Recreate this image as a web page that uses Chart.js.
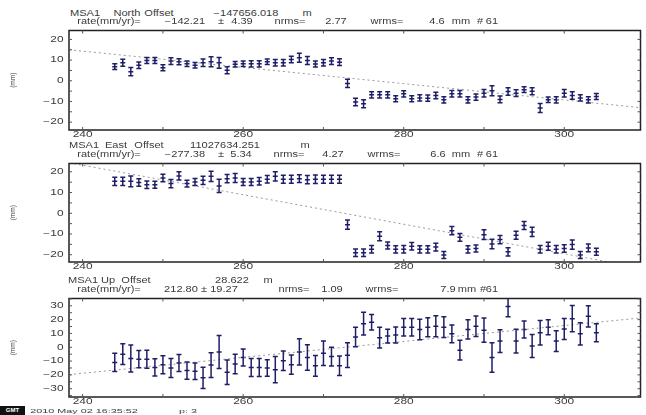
<!DOCTYPE html>
<html>
<head>
<meta charset="utf-8">
<script src="https://cdn.jsdelivr.net/npm/chart.js@4.4.0/dist/chart.umd.min.js"></script>
<style>
  body { margin: 0; background: #fff; width: 646px; height: 415px; overflow: hidden; position: relative;
         font-family: "Liberation Sans", Arial, sans-serif; }
  canvas { position: absolute; left: 0; }
  .t { position: absolute; font-size: 8.5px; line-height: 1; color: #3a3a3a; white-space: pre;
       transform: translate(-50%, -50%) scaleX(1.3); }
  .logo { position: absolute; left: 0; top: 406px; width: 25px; height: 9px; background: #111;
          color: #fff; font-size: 6px; line-height: 9px; text-align: center; font-weight: bold; }
</style>
</head>
<body>
<canvas id="northChart" width="646" height="119" style="top:25px"></canvas>
<canvas id="eastChart" width="646" height="118" style="top:158px"></canvas>
<canvas id="upChart" width="646" height="118" style="top:293px"></canvas>
<div class="logo">GMT</div>

<script>
// day of year, one solution per day
const days = [244, 245, 246, 247, 248, 249, 250, 251, 252, 253, 254, 255, 256, 257, 258, 259, 260, 261, 262, 263,
  264, 265, 266, 267, 268, 269, 270, 271, 272, 273, 274, 275, 276, 277, 278, 279, 280, 281, 282, 283,
  284, 285, 286, 287, 288, 289, 290, 291, 292, 293, 294, 295, 296, 297, 298, 299, 300, 301, 302, 303, 304];

const northValues = [6.8, 8.7, 4.4, 7.5, 9.8, 9.8, 6.3, 9.5, 9.2, 8.2, 7.5, 8.7, 9.2, 8.7, 5.1, 8.0, 8.2, 8.2, 8.2, 9.2,
  8.7, 8.7, 10.3, 11.1, 9.8, 8.1, 8.7, 9.5, 9.0, -1.3, -10.3, -11.1, -6.8, -6.8, -6.8, -8.7, -6.3, -8.7, -8.3, -8.4,
  -7.1, -9.2, -6.3, -6.3, -9.2, -7.9, -6.0, -4.8, -9.0, -5.2, -6.0, -4.3, -5.1, -13.2, -9.2, -9.2, -6.0, -7.1, -8.3, -9.2, -7.6];
const northErrors = [1.4, 1.7, 2.0, 1.6, 1.5, 1.5, 1.5, 1.6, 1.5, 1.3, 1.3, 1.8, 2.4, 2.6, 1.7, 1.3, 1.3, 1.5, 1.5, 1.3,
  1.6, 1.6, 1.6, 2.2, 1.9, 1.5, 1.6, 1.6, 1.6, 2.0, 1.8, 1.9, 1.5, 1.5, 1.5, 1.5, 1.5, 1.5, 1.5, 1.5,
  1.6, 1.5, 1.6, 1.6, 1.5, 1.5, 1.8, 2.4, 1.6, 1.8, 1.6, 1.4, 1.7, 2.2, 1.3, 1.5, 1.8, 1.8, 1.5, 1.5, 1.5];

const eastValues = [15.4, 15.4, 15.4, 14.8, 13.8, 13.8, 17.0, 14.3, 18.0, 14.3, 15.1, 15.9, 17.8, 13.2, 16.7, 17.0, 15.1, 15.1, 15.4, 16.4,
  17.8, 16.4, 16.4, 16.7, 16.2, 16.4, 16.4, 16.4, 16.4, -5.5, -19.0, -19.0, -17.4, -11.1, -15.5, -17.4, -17.4, -15.9, -17.4, -17.4,
  -16.3, -20.1, -8.4, -11.6, -17.4, -17.0, -10.3, -14.8, -12.7, -18.6, -10.6, -5.9, -9.0, -17.4, -15.9, -17.4, -17.0, -15.1, -20.1, -16.7, -18.6];
const eastErrors = [2.0, 2.0, 2.6, 1.8, 1.8, 1.7, 1.8, 2.0, 2.0, 1.6, 1.7, 2.0, 2.5, 3.2, 2.0, 2.2, 1.7, 1.7, 1.8, 1.8,
  2.2, 1.9, 1.9, 1.9, 2.0, 2.0, 1.9, 1.9, 1.9, 2.2, 1.8, 1.8, 1.8, 2.2, 1.7, 1.7, 1.8, 1.8, 1.7, 1.7,
  1.9, 1.7, 2.0, 1.9, 1.7, 1.7, 2.3, 2.3, 2.0, 2.0, 1.9, 1.9, 2.2, 1.8, 1.9, 1.8, 1.8, 2.2, 1.7, 1.9, 1.7];

const upValues = [-11.0, -5.0, -8.1, -8.6, -8.6, -14.6, -12.6, -15.0, -11.4, -16.9, -17.4, -22.1, -12.9, -3.4, -18.1, -12.1, -7.4, -14.6, -14.6, -15.0,
  -16.2, -9.8, -12.6, -3.4, -7.4, -13.4, -4.3, -6.7, -13.4, -5.7, 7.4, 17.1, 18.1, 6.9, 8.1, 8.8, 14.5, 14.5, 12.9, 14.5,
  15.2, 14.5, 9.7, -2.1, 12.9, 15.2, 12.4, -7.4, 4.5, 29.5, 4.5, 12.9, 0.9, 10.5, 14.5, 4.5, 13.3, 20.7, 9.7, 22.4, 10.5];
const upErrors = [6.6, 7.5, 9.8, 6.3, 6.5, 6.2, 6.5, 6.9, 6.2, 6.3, 6.0, 7.7, 9.0, 11.9, 8.9, 7.1, 6.2, 6.5, 6.5, 6.0,
  9.5, 7.1, 7.0, 9.5, 9.2, 7.5, 8.9, 6.8, 7.1, 8.9, 7.1, 8.3, 5.6, 7.5, 5.0, 5.8, 6.3, 6.3, 7.4, 6.9,
  7.6, 7.5, 6.5, 7.1, 7.0, 7.4, 8.8, 10.7, 8.2, 7.4, 8.6, 6.2, 8.3, 8.9, 5.4, 7.5, 7.6, 9.5, 8.0, 7.7, 6.5];

// fitted rate lines (ends of the dotted line)
const trendDays = [238.3, 309.5];
const northTrend = [15.0, -13.0];
const eastTrend = [24.4, -26.3];
const upTrend = [-19.8, 21.2];

const xTickLabels = [240, 260, 280, 300];
const northYLabels = [-20, -10, 0, 10, 20];
const eastYLabels = [-20, -10, 0, 10, 20];
const upYLabels = [-30, -20, -10, 0, 10, 20, 30];

// header text pieces: [centre x, text]
const headers = [
  { y: 12.7, parts: [[85, "MSA1"], [127, "North"], [159, "Offset"], [246, "\u2212147656.018"], [307, "m"]] },
  { y: 20.7, parts: [[109, "rate(mm/yr)="], [185, "\u2212142.21"], [221, "\u00b1"], [242, "4.39"], [290, "nrms="],
                     [336, "2.77"], [387, "wrms="], [437, "4.6"], [461, "mm"], [480, "#"], [492, "61"]] },
  { y: 145, parts: [[84, "MSA1"], [116, "East"], [149, "Offset"], [225, "11027634.251"], [305, "m"]] },
  { y: 154, parts: [[109, "rate(mm/yr)="], [185, "\u2212277.38"], [221, "\u00b1"], [241, "5.34"], [289, "nrms="],
                    [333, "4.27"], [384, "wrms="], [438, "6.6"], [461, "mm"], [480, "#"], [492, "61"]] },
  { y: 280, parts: [[83, "MSA1"], [108, "Up"], [136, "Offset"], [232, "28.622"], [268, "m"]] },
  { y: 288.5, parts: [[109, "rate(mm/yr)="], [181, "212.80"], [204, "\u00b1"], [224, "19.27"], [294, "nrms="],
                      [332, "1.09"], [382, "wrms="], [448, "7.9"], [467, "mm"], [483, "#"], [492, "61"]] },
  { y: 410.5, parts: [[84, "2010 May 02 16:35:52"], [188, "p: 3"]] }
];

headers.forEach(function (line) {
  line.parts.forEach(function (p) {
    const d = document.createElement("div");
    d.className = "t";
    d.style.left = p[0] + "px";
    d.style.top = line.y + "px";
    d.textContent = p[1];
    if (line.y > 400) { d.style.fontSize = "6px"; d.style.transform = "translate(-50%, -50%) scaleX(1.8)"; }
    document.body.appendChild(d);
  });
});

const ink = "#1e1e66";
const SX = 1.4;

function stretchedText(ctx, text, x, y, align) {
  ctx.save();
  ctx.translate(x, y);
  ctx.scale(SX, 1);
  ctx.textAlign = align;
  ctx.textBaseline = "middle";
  ctx.fillText(text, 0, 0);
  ctx.restore();
}

// error bars with caps
const errorBarPlugin = {
  id: "errorBars",
  afterDatasetsDraw(chart) {
    const ctx = chart.ctx;
    const a = chart.chartArea;
    const xs = chart.scales.x, ys = chart.scales.y;
    chart.data.datasets.forEach(function (ds) {
      if (!ds.errors) return;
      ctx.save();
      ctx.beginPath();
      ctx.rect(a.left, a.top, a.right - a.left, a.bottom - a.top);
      ctx.clip();
      ctx.strokeStyle = ink;
      ctx.lineWidth = 1.5;
      ds.data.forEach(function (pt, i) {
        const px = xs.getPixelForValue(pt.x);
        const top = ys.getPixelForValue(pt.y + ds.errors[i]);
        const bot = ys.getPixelForValue(pt.y - ds.errors[i]);
        ctx.beginPath();
        ctx.moveTo(px, top); ctx.lineTo(px, bot);
        ctx.moveTo(px - 2.5, top); ctx.lineTo(px + 2.5, top);
        ctx.moveTo(px - 2.5, bot); ctx.lineTo(px + 2.5, bot);
        ctx.stroke();
      });
      ctx.restore();
    });
  }
};

// frame, inward ticks, tick labels and axis title
const framePlugin = {
  id: "frame",
  afterDraw(chart) {
    const ctx = chart.ctx;
    const a = chart.chartArea;
    const xs = chart.scales.x, ys = chart.scales.y;
    const yLabels = chart.options.plugins.frame.yLabels;
    ctx.save();
    ctx.strokeStyle = "#222";
    ctx.lineWidth = 1.5;
    ctx.strokeRect(a.left, a.top, a.right - a.left, a.bottom - a.top);
    ctx.lineWidth = 1;
    ctx.strokeStyle = "#555";
    ctx.beginPath();
    xs.ticks.forEach(function (t) {
      const px = xs.getPixelForValue(t.value);
      ctx.moveTo(px, a.top); ctx.lineTo(px, a.top + 3);
      ctx.moveTo(px, a.bottom); ctx.lineTo(px, a.bottom - 3);
    });
    ys.ticks.forEach(function (t) {
      const py = ys.getPixelForValue(t.value);
      ctx.moveTo(a.left, py); ctx.lineTo(a.left + 3, py);
      ctx.moveTo(a.right, py); ctx.lineTo(a.right - 3, py);
    });
    ctx.stroke();

    ctx.fillStyle = "#3a3a3a";
    ctx.font = '8.5px "Liberation Sans", Arial, sans-serif';
    xs.ticks.forEach(function (t) {
      if (xTickLabels.indexOf(t.value) >= 0) {
        stretchedText(ctx, String(t.value), xs.getPixelForValue(t.value), a.bottom + 5, "center");
      }
    });
    ys.ticks.forEach(function (t) {
      if (yLabels.indexOf(t.value) >= 0) {
        const s = t.value < 0 ? "\u2212" + Math.abs(t.value) : String(t.value);
        stretchedText(ctx, s, a.left - 5.5, ys.getPixelForValue(t.value), "right");
      }
    });

    ctx.font = '6.5px "Liberation Sans", Arial, sans-serif';
    ctx.translate(13, (a.top + a.bottom) / 2);
    ctx.rotate(-Math.PI / 2);
    ctx.textAlign = "center";
    ctx.textBaseline = "middle";
    ctx.fillText("(mm)", 0, 0);
    ctx.restore();
  }
};

function makePanel(id, values, errors, trend, yMin, yMax, yLabels) {
  const points = [];
  for (let i = 0; i < days.length; i++) {
    points.push({ x: days[i], y: values[i] });
  }
  const fit = [];
  for (let i = 0; i < trendDays.length; i++) {
    fit.push({ x: trendDays[i], y: trend[i] });
  }
  const ctx = document.getElementById(id).getContext("2d");
  new Chart(ctx, {
    type: "scatter",
    data: {
      datasets: [
        {
          type: "line",
          data: fit,
          borderColor: "#9a9a9a",
          borderWidth: 1,
          borderDash: [2, 3],
          pointRadius: 0,
          fill: false
        },
        {
          data: points,
          errors: errors,
          pointStyle: "line",
          pointRadius: 2.5,
          borderColor: ink,
          backgroundColor: ink,
          borderWidth: 1.5
        }
      ]
    },
    plugins: [errorBarPlugin, framePlugin],
    options: {
      responsive: false,
      animation: false,
      devicePixelRatio: 1,
      layout: { padding: { top: 4, right: 2, left: 0, bottom: 0 } },
      plugins: {
        legend: { display: false },
        tooltip: { enabled: false },
        frame: { yLabels: yLabels }
      },
      scales: {
        x: {
          type: "linear",
          min: 238.3,
          max: 309.5,
          ticks: { stepSize: 10, includeBounds: false, display: false },
          grid: { display: false },
          border: { display: false },
          afterFit: function (scale) { scale.height = 14; }
        },
        y: {
          min: yMin,
          max: yMax,
          ticks: { stepSize: 5, includeBounds: false, display: false },
          grid: { display: false },
          border: { display: false },
          afterFit: function (scale) { scale.width = 69; }
        }
      }
    }
  });
}

makePanel("northChart", northValues, northErrors, northTrend, -23.8, 24.3, northYLabels);
makePanel("eastChart", eastValues, eastErrors, eastTrend, -23.5, 24.0, eastYLabels);
makePanel("upChart", upValues, upErrors, upTrend, -36.0, 35.3, upYLabels);
</script>
</body>
</html>
